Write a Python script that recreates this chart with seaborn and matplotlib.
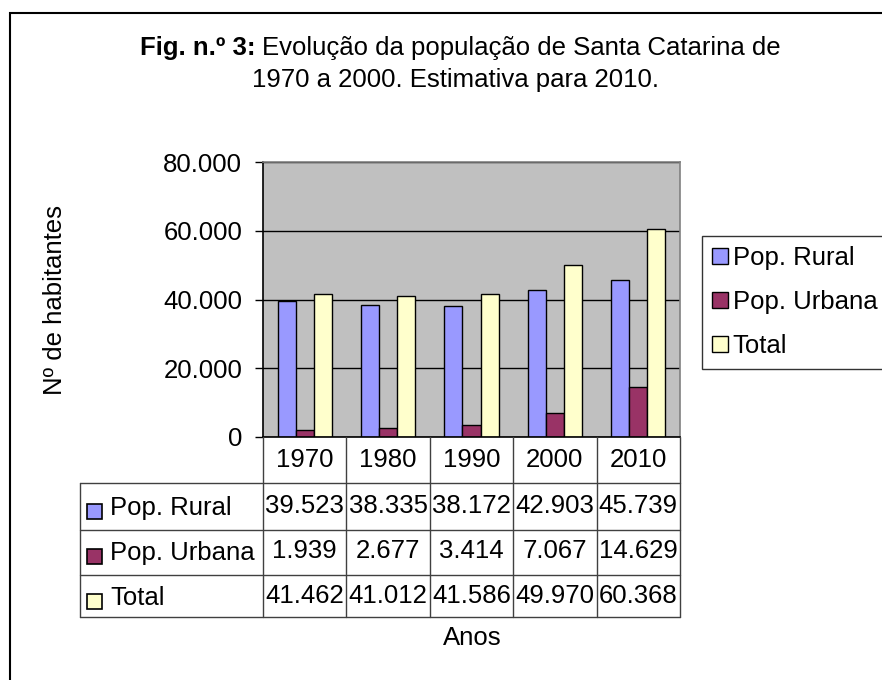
import matplotlib
matplotlib.use("Agg")
import matplotlib.pyplot as plt
import matplotlib.transforms as mtransforms
from matplotlib.patches import Rectangle
from matplotlib.lines import Line2D
from matplotlib.ticker import FuncFormatter
import seaborn as sns
import pandas as pd

# ---------- dados ----------
anos       = ["1970", "1980", "1990", "2000", "2010"]
pop_rural  = [39523, 38335, 38172, 42903, 45739]
pop_urbana = [1939, 2677, 3414, 7067, 14629]
total      = [41462, 41012, 41586, 49970, 60368]
series     = ["Pop. Rural", "Pop. Urbana", "Total"]
cores      = ["#9999FF", "#993366", "#FFFFCC"]

W, H = 882, 680
def fx(x): return x / W
def fy(y): return 1 - y / H
def fmt(v): return f"{int(v):,}".replace(",", ".")

wide = pd.DataFrame({"Ano": anos, series[0]: pop_rural, series[1]: pop_urbana, series[2]: total})
long = wide.melt(id_vars="Ano", var_name="Serie", value_name="Valor")

sns.set_style("white")
plt.rcParams["font.family"] = ["Liberation Sans", "DejaVu Sans"]
plt.rcParams["text.color"] = "black"
FS = 18.5

fig = plt.figure(figsize=(8.82, 6.8), dpi=100)
ax = fig.add_axes([fx(263), fy(437), fx(680) - fx(263), fy(162) - fy(437)])

sns.barplot(data=long, x="Ano", y="Valor", hue="Serie", hue_order=series,
            palette=cores, saturation=1, width=0.65, gap=0,
            edgecolor="black", linewidth=1, ax=ax)

ax.set_facecolor("#C0C0C0")
ax.set_xlim(-0.5, 4.5)
ax.set_ylim(0, 80000)
ax.set_yticks(range(0, 80001, 20000))
ax.yaxis.set_major_formatter(FuncFormatter(lambda v, p: fmt(v)))
ax.yaxis.grid(True, color="black", lw=1)
ax.set_axisbelow(True)
ax.set_xticks([])
ax.set_xlabel("")
ax.set_ylabel("")
ax.tick_params(axis="y", left=True, length=6, width=1, pad=9, labelsize=FS,
               color="black", labelcolor="black")
for s in ["top", "right"]:
    ax.spines[s].set_color("#808080")
for s in ["left", "bottom"]:
    ax.spines[s].set_color("black")
for s in ax.spines.values():
    s.set_linewidth(1.2)

# legenda
handles, _ = ax.get_legend_handles_labels()
ax.get_legend().remove()
leg = fig.legend(handles, series, loc="upper left", bbox_to_anchor=(fx(702), fy(236)),
                 frameon=True, fancybox=False, edgecolor="black", fontsize=FS,
                 handlelength=0.6, handleheight=0.6, handletextpad=0.2,
                 borderpad=0.4, labelspacing=0.78, borderaxespad=0)
leg.get_frame().set_linewidth(1)

# títulos
fig.text(fx(256), fy(48), "Fig. n.º 3:", weight="bold", ha="right", va="center", fontsize=FS)
fig.text(fx(262), fy(48), "Evolução da população de Santa Catarina de", ha="left", va="center", fontsize=FS)
fig.text(fx(455), fy(80), "1970 a 2000. Estimativa para 2010.", ha="center", va="center", fontsize=FS)
fig.text(fx(55), fy(300), "Nº de habitantes", rotation=90, ha="center", va="center", fontsize=FS)
fig.text(fx(472), fy(638), "Anos", ha="center", va="center", fontsize=FS)

# tabela de dados
trans = mtransforms.blended_transform_factory(ax.transData, fig.transFigure)
lc = "#404040"
for i in range(len(anos) + 1):
    fig.add_artist(Line2D([i - 0.5, i - 0.5], [fy(437), fy(617)], transform=trans, color=lc, lw=1))
fig.add_artist(Line2D([fx(80), fx(80)], [fy(483), fy(617)], transform=fig.transFigure, color=lc, lw=1))
for yy in [483, 530, 575, 617]:
    fig.add_artist(Line2D([fx(80), fx(680)], [fy(yy), fy(yy)], transform=fig.transFigure, color=lc, lw=1))

for i, a in enumerate(anos):
    ax.text(i, fy(460), a, transform=trans, ha="center", va="center", fontsize=FS)

linhas = [pop_rural, pop_urbana, total]
row_y = [508, 553, 598]
for serie, cor, vals, yy in zip(series, cores, linhas, row_y):
    fig.add_artist(Rectangle((fx(87), fy(yy + 11)), fx(15), 15 / H, transform=fig.transFigure,
                             facecolor=cor, edgecolor="black", lw=1.2))
    fig.text(fx(110), fy(yy), serie, ha="left", va="center", fontsize=FS)
    for i, v in enumerate(vals):
        ax.text(i, fy(yy - 2), fmt(v), transform=trans, ha="center", va="center", fontsize=FS)

# moldura externa
fig.add_artist(Rectangle((fx(10), -0.05), 1.0, fy(13) + 0.05, transform=fig.transFigure,
                         fill=False, edgecolor="black", lw=1.5))

fig.savefig("out.png", dpi=100)
